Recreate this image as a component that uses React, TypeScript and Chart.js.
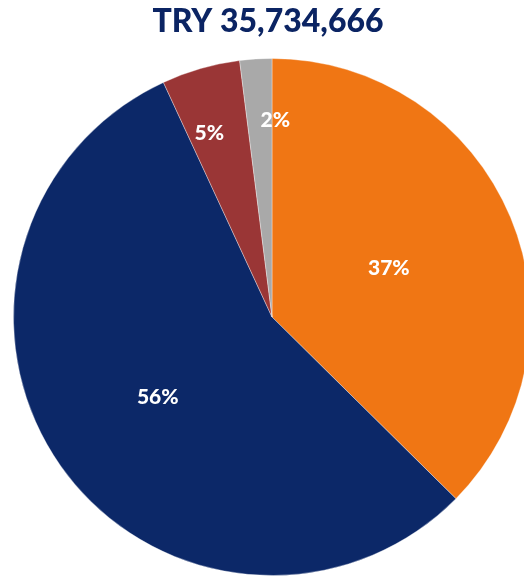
import React, { useEffect, useRef } from "react";
import { Chart, registerables } from "chart.js";

Chart.register(...registerables);

const titleText = "TRY 35,734,666";
const categories = ["A", "B", "C", "D"];
const values = [37.4, 55.7, 4.9, 2.0];
const pctLabels = ["37%", "56%", "5%", "2%"];
const colors = ["#F07614", "#0C2868", "#9A3636", "#A9A9A9"];
const labelRadius = [0.49, 0.54, 0.75, 0.76];
const labelAngleShift = [0, 0, -0.05, 0.08];

function shade(hex: string, amt: number): string {
  const n = parseInt(hex.slice(1), 16);
  let r = (n >> 16) & 255, g = (n >> 8) & 255, b = n & 255;
  const f = (c: number) => Math.max(0, Math.min(255, Math.round(amt >= 0 ? c + (255 - c) * amt : c * (1 + amt))));
  return `rgb(${f(r)},${f(g)},${f(b)})`;
}

const overlayPlugin = {
  id: "overlay",
  afterDatasetsDraw(chart: any) {
    const ctx = chart.ctx;
    const meta = chart.getDatasetMeta(0);
    ctx.save();
    ctx.fillStyle = "#FFFFFF";
    ctx.font = "900 21px Lato";
    ctx.textAlign = "center";
    ctx.textBaseline = "middle";
    meta.data.forEach((arc: any, i: number) => {
      const p = arc.getProps(["x", "y", "startAngle", "endAngle", "outerRadius"], true);
      const mid = (p.startAngle + p.endAngle) / 2 + labelAngleShift[i];
      const r = p.outerRadius * labelRadius[i];
      ctx.fillText(pctLabels[i], p.x + Math.cos(mid) * r, p.y + Math.sin(mid) * r);
    });
    ctx.fillStyle = "#0B2463";
    ctx.font = "900 32px Lato";
    ctx.fillText(titleText, 268, 22);
    ctx.restore();
  },
};

export default function App() {
  const ref = useRef<HTMLCanvasElement>(null);
  useEffect(() => {
    if (!ref.current) return;
    const chart = new Chart(ref.current, {
      type: "pie",
      data: {
        labels: categories,
        datasets: [
          {
            data: values,
            backgroundColor: (c: any) => {
              const base = colors[c.dataIndex];
              const ch = c.chart;
              if (!ch.chartArea) return base;
              const el = ch.getDatasetMeta(0).data[c.dataIndex] as any;
              if (!el || !el.outerRadius) return base;
              const g = ch.ctx.createRadialGradient(el.x, el.y, 0, el.x, el.y, el.outerRadius);
              g.addColorStop(0, shade(base, 0.04));
              g.addColorStop(0.86, base);
              g.addColorStop(0.93, shade(base, 0.06));
              g.addColorStop(1, shade(base, -0.35));
              return g;
            },
            borderColor: "rgba(255,255,255,0.35)",
            borderWidth: 1,
          },
        ],
      },
      options: {
        responsive: false,
        animation: false,
        rotation: 0,
        layout: { padding: { top: 58, left: 13, right: 13, bottom: 1 } },
        plugins: {
          legend: { display: false },
          title: { display: false },
          tooltip: { enabled: false },
        },
      },
      plugins: [overlayPlugin],
    });
    return () => chart.destroy();
  }, []);
  return (
    <div style={{ position: "fixed", left: 0, top: 0, width: 524, height: 577, overflow: "hidden", background: "#fff" }}>
      <canvas ref={ref} width={544} height={577} style={{ width: 544, height: 577, display: "block" }} />
    </div>
  );
}
